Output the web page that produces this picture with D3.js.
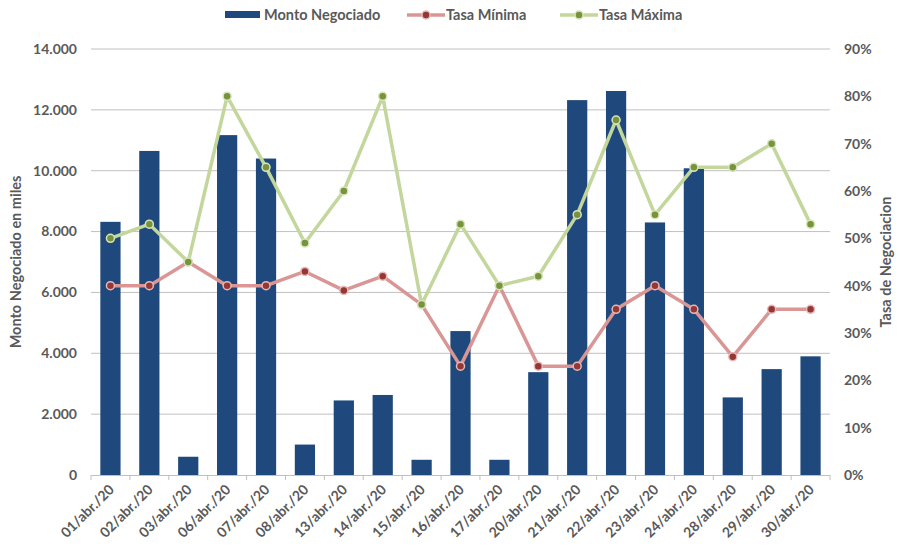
<!DOCTYPE html>
<html><head><meta charset="utf-8">
<script src="https://cdn.jsdelivr.net/npm/d3@7"></script>
<style>body{margin:0;background:#fff;}svg{display:block;font-family:Lato,"Open Sans",sans-serif;}</style>
</head><body><svg id="c" width="900" height="548"></svg>
<script>
const categories = ["01/abr./20","02/abr./20","03/abr./20","06/abr./20","07/abr./20","08/abr./20","13/abr./20","14/abr./20","15/abr./20","16/abr./20","17/abr./20","20/abr./20","21/abr./20","22/abr./20","23/abr./20","24/abr./20","28/abr./20","29/abr./20","30/abr./20"];
const monto = [8320,10650,600,11170,10400,1000,2450,2630,500,4730,500,3380,12320,12620,8300,10080,2550,3480,3900];
const tasaMin = [0.40,0.40,0.45,0.40,0.40,0.43,0.39,0.42,0.36,0.23,0.40,0.23,0.23,0.35,0.40,0.35,0.25,0.35,0.35];
const tasaMax = [0.50,0.53,0.45,0.80,0.65,0.49,0.60,0.80,0.36,0.53,0.40,0.42,0.55,0.75,0.55,0.65,0.65,0.70,0.53];
const leftTicks = [0,2000,4000,6000,8000,10000,12000,14000];
const rightTicks = [0,0.1,0.2,0.3,0.4,0.5,0.6,0.7,0.8,0.9];

const svg = d3.select("#c");
const L=91, R=830, T=49, B=475;
const textCol="#595959", gridCol="#c0c0c0";
const x = d3.scaleBand().domain(categories).range([L,R]).paddingInner(0.48).paddingOuter(0.24);
const yL = d3.scaleLinear().domain([0,14000]).range([B,T]);
const yR = d3.scaleLinear().domain([0,0.9]).range([B,T]);
const fmtL = v => d3.format(",")(v).replace(/,/g,".");

// gridlines
svg.append("g").selectAll("line").data(leftTicks.filter(d=>d>0)).join("line")
  .attr("x1",L).attr("x2",R).attr("y1",d=>yL(d)).attr("y2",d=>yL(d))
  .attr("stroke",gridCol).attr("stroke-width",1);

// bars
svg.append("g").selectAll("rect").data(monto).join("rect")
  .attr("x",(d,i)=>x(categories[i])).attr("width",x.bandwidth())
  .attr("y",d=>yL(d)).attr("height",d=>B-yL(d)).attr("fill","#1f497d");

// x axis
const step = (R-L)/categories.length;
const xg = svg.append("g");
xg.append("line").attr("x1",L).attr("x2",R).attr("y1",B+0.5).attr("y2",B+0.5).attr("stroke",gridCol);
xg.selectAll("line.t").data(d3.range(categories.length+1)).join("line").attr("class","t")
  .attr("x1",i=>L+i*step).attr("x2",i=>L+i*step).attr("y1",B).attr("y2",B+5).attr("stroke",gridCol);
xg.selectAll("text").data(categories).join("text")
  .attr("transform",d=>`translate(${x(d)+x.bandwidth()/2+1},${B+12}) rotate(-45)`)
  .attr("text-anchor","end").attr("dy","0.35em")
  .attr("font-size",14).attr("font-weight","bold").attr("fill",textCol).text(d=>d);

// left axis labels
svg.append("g").selectAll("text").data(leftTicks).join("text")
  .attr("x",L-14).attr("y",d=>yL(d)).attr("dy","0.35em").attr("text-anchor","end")
  .attr("font-size",14).attr("font-weight","bold").attr("fill",textCol).text(fmtL);
// right axis labels
svg.append("g").selectAll("text").data(rightTicks).join("text")
  .attr("x",R+14).attr("y",d=>yR(d)).attr("dy","0.35em").attr("text-anchor","start")
  .attr("font-size",14).attr("font-weight","bold").attr("fill",textCol).text(d=>Math.round(d*100)+"%");

// axis titles
svg.append("text").attr("transform",`translate(21,${(T+B)/2}) rotate(-90)`).attr("text-anchor","middle")
  .attr("font-size",14.5).attr("font-weight","bold").attr("fill",textCol).text("Monto Negociado en miles");
svg.append("text").attr("transform",`translate(891,${(T+B)/2}) rotate(-90)`).attr("text-anchor","middle")
  .attr("font-size",14.5).attr("font-weight","bold").attr("fill",textCol).text("Tasa de Negociacion");

// lines
const cx = i => x(categories[i]) + x.bandwidth()/2;
const line = d3.line().x((d,i)=>cx(i)).y(d=>yR(d));
function series(data, lineCol, dotCol, ringCol){
  svg.append("path").datum(data).attr("d",line).attr("fill","none")
    .attr("stroke",lineCol).attr("stroke-width",3.5).attr("stroke-linejoin","round");
  svg.append("g").selectAll("circle").data(data).join("circle")
    .attr("cx",(d,i)=>cx(i)).attr("cy",d=>yR(d)).attr("r",4)
    .attr("fill",dotCol).attr("stroke",ringCol).attr("stroke-width",1.5);
}
series(tasaMin,"#d99694","#953735","#e6b9b8");
series(tasaMax,"#c3d69b","#77933c","#d7e4bd");

// legend
const lg = svg.append("g").attr("font-size",14.5).attr("font-weight","bold").attr("fill",textCol);
lg.append("rect").attr("x",225).attr("y",11).attr("width",35).attr("height",7).attr("fill","#1f497d");
lg.append("text").attr("x",264).attr("y",15).attr("dy","0.35em").text("Monto Negociado");
[[407,"#d99694","#953735","#e6b9b8","Tasa Mínima"],[560,"#c3d69b","#77933c","#d7e4bd","Tasa Máxima"]].forEach(([lx,lc,dc,rc,t])=>{
  lg.append("line").attr("x1",lx).attr("x2",lx+38).attr("y1",15).attr("y2",15).attr("stroke",lc).attr("stroke-width",3.5);
  lg.append("circle").attr("cx",lx+19).attr("cy",15).attr("r",4).attr("fill",dc).attr("stroke",rc).attr("stroke-width",1.5);
  lg.append("text").attr("x",lx+39).attr("y",15).attr("dy","0.35em").text(t);
});
</script></body></html>
